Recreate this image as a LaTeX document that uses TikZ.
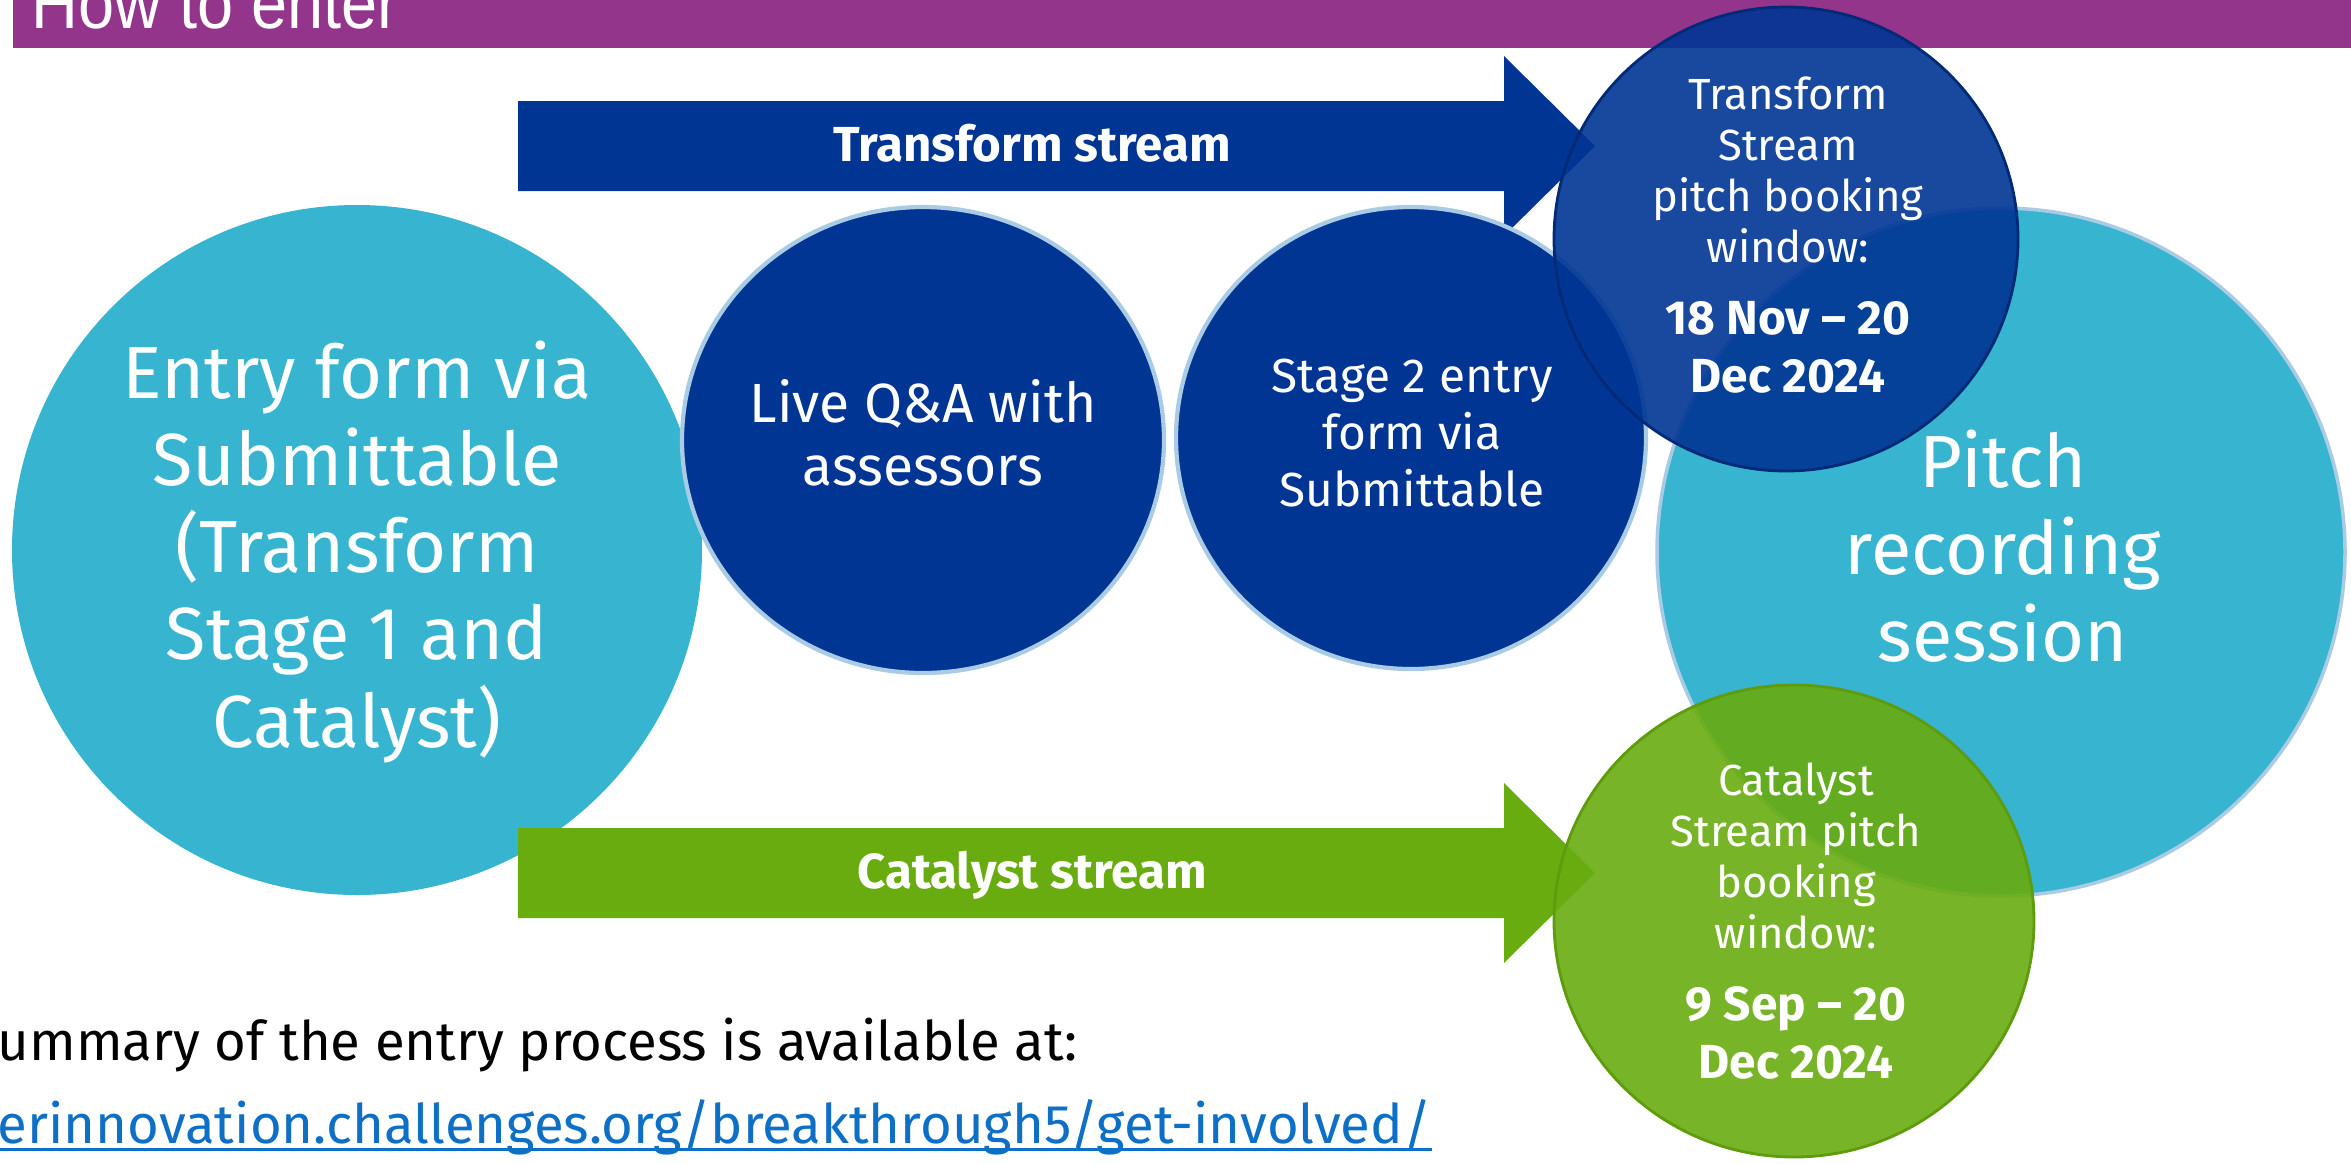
\documentclass[tikz,border=0pt]{standalone}
\usepackage{fontspec}
\setmainfont{Fira Sans}
\newfontfamily\headfont[FakeStretch=0.9]{Liberation Sans}

\definecolor{headpurple}{HTML}{93358B}
\definecolor{entrycyan}{HTML}{37B5D0}
\definecolor{navy}{HTML}{003594}
\definecolor{leafgreen}{HTML}{68AC0F}
\definecolor{rimblue}{HTML}{A9CCE4}
\definecolor{linkblue}{HTML}{0E6FC7}

\newcommand{\windowdate}{\bfseries\fontsize{13.6}{16.5}\selectfont}

\tikzset{
  bigtext/.style={text=white, align=center, font=\fontsize{21}{24.75}\selectfont},
  midtext/.style={text=white, align=center, font=\fontsize{15.7}{17.9}\selectfont},
  smalltext/.style={text=white, align=center, font=\fontsize{13.6}{16.3}\selectfont},
  windowtext/.style={text=white, align=center, font=\fontsize{12.4}{14.5}\selectfont},
  arrowtext/.style={text=white, anchor=base, font=\bfseries\fontsize{14}{16}\selectfont},
  foottext/.style={anchor=base west, inner sep=0, font=\fontsize{15.5}{17}\selectfont}
}

\begin{document}
\begin{tikzpicture}[x=0.01cm, y=-0.01cm]
\useasboundingbox (0,0) rectangle (2351,1163);
\clip (0,0) rectangle (2351,1163);

% title bar
\fill[headpurple] (13,0) rectangle (2351,48);
\node[anchor=base west, inner sep=0, text=white, font=\headfont\fontsize{20.5}{22}\selectfont] (title) at (31,28) {How to enter};

% big circles at both ends
\fill[entrycyan] (357,550) circle [radius=345];
\node[bigtext] (entry) at (357,552) {Entry form via\\Submittable\\(Transform\\Stage 1 and\\Catalyst)};
\draw[fill=entrycyan, draw=rimblue, line width=1pt] (2001,552) circle [radius=344];
\node[bigtext] (pitch) at (2003,546) {Pitch\\recording\\session};

% stream arrows
\foreach \y/\col/\name/\txt in {146/navy/tarrow/Transform stream, 873/leafgreen/carrow/Catalyst stream} {
	\fill[\col] (518,\y-45) -- (1504,\y-45) -- (1504,\y-90) -- (1595,\y) -- (1504,\y+90) -- (1504,\y+45) -- (518,\y+45) -- cycle;
	\node[arrowtext] (\name) at (1032,\y+15) {\txt};
}

% middle steps
\draw[fill=navy, draw=rimblue, line width=1.2pt] (923,440) ellipse [x radius=241, y radius=233];
\node[midtext] (qa) at (923,433) {Live Q\&A with\\assessors};
\draw[fill=navy, draw=rimblue, line width=1.2pt] (1411,438) ellipse [x radius=235, y radius=231];
\node[smalltext] (stagetwo) at (1412,433) {Stage 2 entry\\form via\\Submittable};

% booking windows
\draw[fill=navy, fill opacity=0.9, draw=navy!80!black, line width=0.8pt] (1786,239) circle [radius=232];
\node[windowtext] (twindow) at (1788,235) {Transform\\Stream\\pitch booking\\window:\\[6pt]\windowdate 18 Nov -- 20\\[2pt]\windowdate Dec 2024};
\draw[fill=leafgreen, fill opacity=0.9, draw=leafgreen!90!black, line width=0.8pt] (1794,921) ellipse [x radius=240, y radius=236];
\node[windowtext] (cwindow) at (1796,921) {Catalyst\\Stream pitch\\booking\\window:\\[6pt]\windowdate 9 Sep -- 20\\[2pt]\windowdate Dec 2024};

% footer
\node[foottext] (summary) at (-3,1060) {ummary of the entry process is available at:};
\node[foottext, text=linkblue] (link) at (-3,1143) {erinnovation.challenges.org/breakthrough5/get-involved/};
\draw[linkblue, line width=0.8pt] ([yshift=-1.8pt]link.base west) -- ([yshift=-1.8pt]link.base east);
\end{tikzpicture}
\end{document}
